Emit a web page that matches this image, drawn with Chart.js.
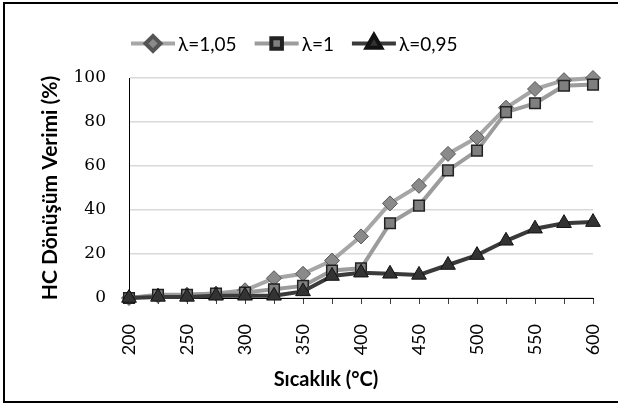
<!DOCTYPE html>
<html>
<head>
<meta charset="utf-8">
<script src="https://cdn.jsdelivr.net/npm/chart.js"></script>
<style>
  html, body { margin: 0; padding: 0; overflow: hidden; background: #fff; }
  #frame { position: absolute; left: 3px; top: 2px; width: 700px; height: 401px;
           border: 2px solid #000; box-sizing: border-box; }
  #myChart { position: absolute; left: 0; top: 0; }
</style>
</head>
<body>
<div id="frame"></div>
<canvas id="myChart" width="618" height="405"></canvas>

<script>
// sicaklik (°C)
var temps = ['200','225','250','275','300','325','350','375','400','425','450','475','500','525','550','575','600'];

// HC donusum verimi (%)
var lambda105 = [0, 1, 1.5, 2, 3.5, 9, 11, 17, 28, 43, 51, 65.5, 73, 86.5, 95, 99, 100];
var lambda100 = [0, 1.5, 1.5, 2, 2.5, 4, 5.5, 12.5, 13.5, 34, 42, 58, 67, 84.5, 88.5, 96.5, 97];
var lambda095 = [0, 0.5, 0.5, 1, 1, 1, 3, 10, 11.5, 11, 10.5, 15, 19.5, 26, 31.5, 34, 34.5];

var seriesNames = ['λ=1,05', 'λ=1', 'λ=0,95'];
var yTicks = [0, 20, 40, 60, 80, 100];

// excel style legend (line + marker) and the x title
var excelLegend = {
  id: 'excelLegend',
  afterDraw: function(chart) {
    var ctx = chart.ctx;
    var x = 131, y = 43.5;
    ctx.save();
    ctx.font = '19px Lato, "DejaVu Sans", sans-serif';
    ctx.textBaseline = 'middle';
    chart.data.datasets.forEach(function(ds) {
      ctx.strokeStyle = ds.borderColor;
      ctx.lineWidth = ds.borderWidth;
      ctx.beginPath();
      ctx.moveTo(x, y);
      ctx.lineTo(x + 44, y);
      ctx.stroke();
      ctx.fillStyle = ds.pointBackgroundColor;
      ctx.strokeStyle = ds.pointBorderColor;
      Chart.helpers.drawPoint(ctx, {
        pointStyle: ds.pointStyle, radius: ds.pointRadius,
        borderWidth: ds.pointBorderWidth, rotation: 0
      }, x + 22, y);
      ctx.fillStyle = '#000';
      ctx.fillText(ds.label, x + 47, y + 1);
      x += 47 + ctx.measureText(ds.label).width + 18;
    });
    ctx.font = 'bold 20px Lato, "DejaVu Sans", sans-serif';
    ctx.textAlign = 'center';
    ctx.fillText('Sıcaklık (°C)', 326, 380);
    ctx.restore();
  }
};

var config = {
  type: 'line',
  data: {
    labels: temps,
    datasets: [
      {
        label: seriesNames[0], data: lambda105, order: 3,
        borderColor: '#a6a6a6', borderWidth: 4,
        pointStyle: 'rectRot', pointRadius: 7.5,
        pointBackgroundColor: '#8a8a8a', pointBorderColor: '#555555', pointBorderWidth: 1
      },
      {
        label: seriesNames[1], data: lambda100, order: 2,
        borderColor: '#9c9c9c', borderWidth: 4,
        pointStyle: 'rect', pointRadius: 7.5,
        pointBackgroundColor: '#7f7f7f', pointBorderColor: '#222222', pointBorderWidth: 1.5
      },
      {
        label: seriesNames[2], data: lambda095, order: 1,
        borderColor: '#3a3a3a', borderWidth: 4,
        pointStyle: 'triangle', pointRadius: 8.5,
        pointBackgroundColor: '#333333', pointBorderColor: '#111111', pointBorderWidth: 1
      }
    ]
  },
  options: {
    responsive: false,
    animation: false,
    clip: false,
    layout: { padding: { left: 38, right: 25, top: 78, bottom: 0 } },
    elements: { line: { tension: 0 } },
    plugins: {
      legend: { display: false },
      tooltip: { enabled: false }
    },
    scales: {
      x: {
        type: 'category',
        offset: false,
        afterFit: function(scale) {
          scale.height = 107;
          scale.paddingLeft = 0;
          scale.paddingRight = 0;
        },
        grid: { drawOnChartArea: false, drawTicks: true, tickLength: 6, color: '#404040' },
        border: { display: true, color: '#000', width: 1 },
        ticks: {
          autoSkip: false, maxRotation: 90, minRotation: 90, padding: 20,
          color: '#000', font: { family: 'Lato, "DejaVu Sans", sans-serif', size: 18 },
          callback: function(v, i) { return i % 2 === 0 ? temps[i] : ''; }
        }
      },
      y: {
        min: 0, max: 100,
        afterFit: function(scale) { scale.width = 91; },
        afterBuildTicks: function(scale) {
          scale.ticks = yTicks.map(function(v) { return { value: v }; });
        },
        grid: { color: '#d9d9d9', lineWidth: 1.5, drawTicks: false },
        border: { display: true, color: '#000', width: 1 },
        ticks: {
          padding: 23, color: '#000',
          font: { family: '"DejaVu Serif", serif', size: 17 }
        },
        title: {
          display: true, text: 'HC Dönüşüm Verimi (%)', color: '#000',
          padding: 0,
          font: { family: 'Lato, "DejaVu Sans", sans-serif', size: 21, weight: 'bold' }
        }
      }
    }
  },
  plugins: [excelLegend]
};

var myChart = new Chart(document.getElementById('myChart'), config);
</script>
</body>
</html>
